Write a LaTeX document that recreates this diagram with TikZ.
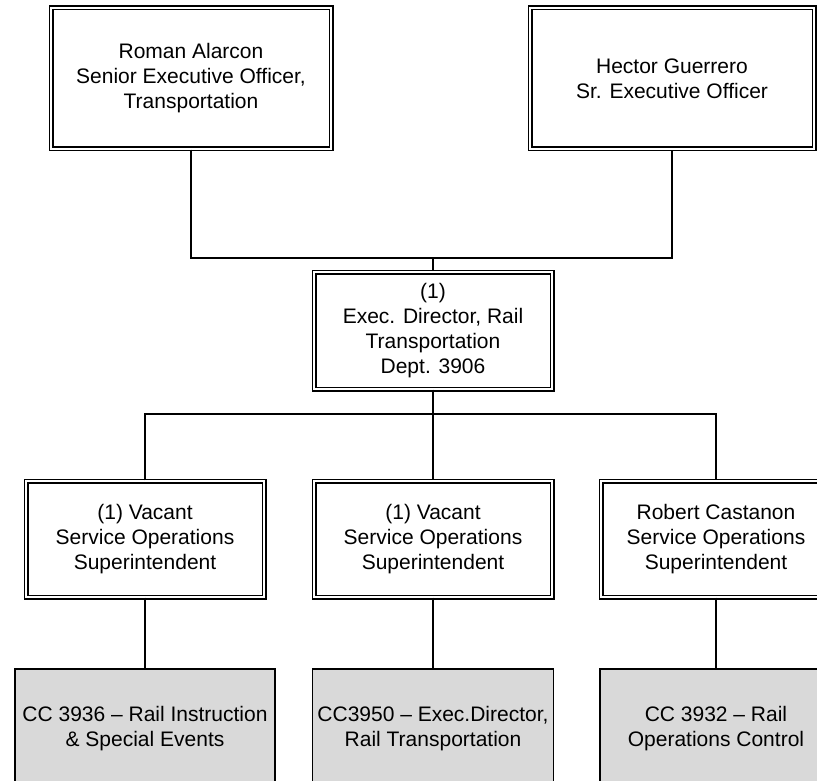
\documentclass[tikz,border=0pt]{standalone}
\usepackage{fontspec}
\setmainfont{Liberation Sans}
\begin{document}
\begin{tikzpicture}[x=1pt,y=-1pt,
  dbox/.style={draw=black, line width=1.2pt, double=white, double distance=2.6pt,
    fill=white, inner sep=0pt, align=center, font=\fontsize{21}{25}\selectfont},
  gbox/.style={draw=black, line width=1.3pt, fill=gray!30, inner sep=0pt,
    align=center, font=\fontsize{21}{25}\selectfont},
  conn/.style={draw=black, line width=1.3pt}]
\useasboundingbox (0,0) rectangle (817,781);
\clip (0,0) rectangle (817,781);
% top row
\node[dbox, minimum width=280pt, minimum height=141pt] (tl) at (191,78.5)
  {Roman Alarcon\\Senior Executive Officer,\\Transportation};
\node[dbox, minimum width=284pt, minimum height=141pt] (tr) at (672,78.5)
  {Hector Guerrero\\Sr. Executive Officer};
% centre
\node[dbox, minimum width=238pt, minimum height=117pt] (ctr) at (433,330.5)
  {(1)\\Exec. Director, Rail\\Transportation\\Dept. 3906};
% second row
\node[dbox, minimum width=238pt, minimum height=116pt] (l2) at (145,539)
  {(1) Vacant\\Service Operations\\Superintendent};
\node[dbox, minimum width=238pt, minimum height=116pt] (m2) at (433,539)
  {(1) Vacant\\Service Operations\\Superintendent};
\node[dbox, minimum width=230pt, minimum height=116pt] (r2) at (716,539)
  {Robert Castanon\\Service Operations\\Superintendent};
% grey row
\node[gbox, minimum width=260pt, minimum height=120pt] (l3) at (145,729)
  {CC 3936 -- Rail Instruction\\\& Special Events};
\node[gbox, minimum width=241pt, minimum height=120pt] (m3) at (433,729)
  {CC3950 -- Exec.Director,\\Rail Transportation};
\node[gbox, minimum width=232pt, minimum height=120pt] (r3) at (716,729)
  {CC 3932 -- Rail\\Operations Control};
% connectors
\coordinate (j1) at (433,258);
\coordinate (j2) at (433,414);
\draw[conn] (tl.south) -- (tl.south |- j1) -| (tr.south);
\draw[conn] (j1) -- (ctr.north);
\draw[conn] (ctr.south) -- (m2.north);
\draw[conn] (l2.north) -- (l2.north |- j2) -| (r2.north);
\draw[conn] (l2.south) -- (l3.north);
\draw[conn] (m2.south) -- (m3.north);
\draw[conn] (r2.south) -- (r3.north);
\end{tikzpicture}
\end{document}
